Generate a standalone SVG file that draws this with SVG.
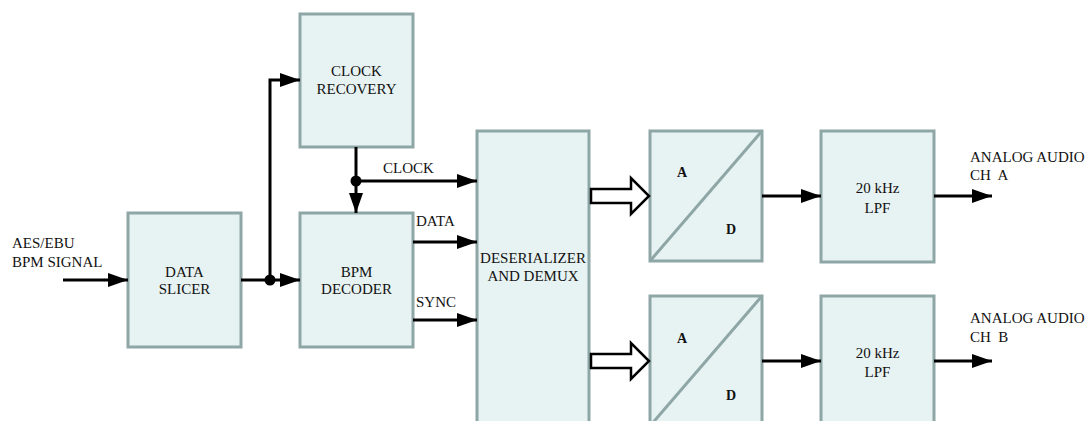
<svg xmlns="http://www.w3.org/2000/svg" width="1088" height="421" viewBox="0 0 1088 421">
<defs>
<style>
.box{fill:#e7f2f2;stroke:#8fa6a6;stroke-width:3}
.diag{stroke:#8fa6a6;stroke-width:3;fill:none}
text{font-family:'Liberation Serif','Times New Roman',serif;font-size:15px;fill:#111}
.c{text-anchor:middle}
.b{font-weight:bold;font-size:14px}
.w{stroke:#000;stroke-width:3;fill:none}
.hollow{fill:#fff;stroke:#000;stroke-width:2.5;stroke-linejoin:miter}
</style>
<marker id="ah" markerUnits="userSpaceOnUse" markerWidth="20" markerHeight="14" refX="20" refY="7" orient="auto">
<path d="M0,0 L20,7 L0,14 z" fill="#000"/>
</marker>
</defs>
<rect width="1088" height="421" fill="#fff"/>

<g id="input-label">
<text x="12" y="248">AES/EBU</text>
<text x="12" y="267">BPM SIGNAL</text>
</g>

<g id="data-slicer">
<rect class="box" x="128" y="213" width="113" height="134"/>
<text class="c" x="184.5" y="277">DATA</text>
<text class="c" x="184.5" y="294">SLICER</text>
</g>

<g id="clock-recovery">
<rect class="box" x="300" y="14" width="113" height="133"/>
<text class="c" x="356.5" y="76">CLOCK</text>
<text class="c" x="356.5" y="94">RECOVERY</text>
</g>

<g id="bpm-decoder">
<rect class="box" x="300" y="213" width="113" height="134"/>
<text class="c" x="356.5" y="277">BPM</text>
<text class="c" x="356.5" y="294">DECODER</text>
</g>

<g id="deserializer">
<rect class="box" x="477" y="131" width="112" height="300"/>
<text class="c" x="533" y="263">DESERIALIZER</text>
<text class="c" x="533" y="281">AND DEMUX</text>
</g>

<g id="adc-a">
<rect class="box" x="650" y="131" width="112" height="130"/>
<line class="diag" x1="650" y1="261" x2="762" y2="131"/>
<text class="b" x="677" y="177">A</text>
<text class="b" x="726" y="234">D</text>
</g>

<g id="adc-b">
<rect class="box" x="650" y="296" width="112" height="130"/>
<line class="diag" x1="650" y1="426" x2="762" y2="296"/>
<text class="b" x="677" y="343">A</text>
<text class="b" x="726" y="400">D</text>
</g>

<g id="lpf-a">
<rect class="box" x="821" y="131" width="113" height="131"/>
<text class="c" x="877.5" y="193">20 kHz</text>
<text class="c" x="877.5" y="213">LPF</text>
</g>

<g id="lpf-b">
<rect class="box" x="821" y="296" width="113" height="131"/>
<text class="c" x="877.5" y="358">20 kHz</text>
<text class="c" x="877.5" y="377">LPF</text>
</g>

<g id="output-labels">
<text x="970" y="162">ANALOG AUDIO</text>
<text x="970" y="180" xml:space="preserve">CH  A</text>
<text x="970" y="323">ANALOG AUDIO</text>
<text x="970" y="342" xml:space="preserve">CH  B</text>
</g>

<g id="connectors">
<line class="w" x1="63" y1="280" x2="128" y2="280" marker-end="url(#ah)"/>
<line class="w" x1="241" y1="280" x2="300" y2="280" marker-end="url(#ah)"/>
<polyline class="w" points="270,280 270,80 300,80" marker-end="url(#ah)"/>
<circle cx="270" cy="280" r="5.5" fill="#000"/>
<line class="w" x1="356" y1="147" x2="356" y2="181"/>
<line class="w" x1="356" y1="181" x2="477" y2="181" marker-end="url(#ah)"/>
<line class="w" x1="356" y1="181" x2="356" y2="213" marker-end="url(#ah)"/>
<circle cx="356" cy="181" r="5.5" fill="#000"/>
<text x="383" y="173">CLOCK</text>
<line class="w" x1="413" y1="242" x2="477" y2="242" marker-end="url(#ah)"/>
<text x="416" y="226">DATA</text>
<line class="w" x1="413" y1="320" x2="477" y2="320" marker-end="url(#ah)"/>
<text x="416" y="307">SYNC</text>
<path class="hollow" d="M591,189 L631,189 L631,178 L649,196 L631,214 L631,203 L591,203 z"/>
<path class="hollow" d="M591,354 L631,354 L631,343 L649,361 L631,379 L631,368 L591,368 z"/>
<line class="w" x1="762" y1="196" x2="821" y2="196" marker-end="url(#ah)"/>
<line class="w" x1="762" y1="361" x2="821" y2="361" marker-end="url(#ah)"/>
<line class="w" x1="934" y1="196" x2="992" y2="196" marker-end="url(#ah)"/>
<line class="w" x1="934" y1="361" x2="992" y2="361" marker-end="url(#ah)"/>
</g>
</svg>
